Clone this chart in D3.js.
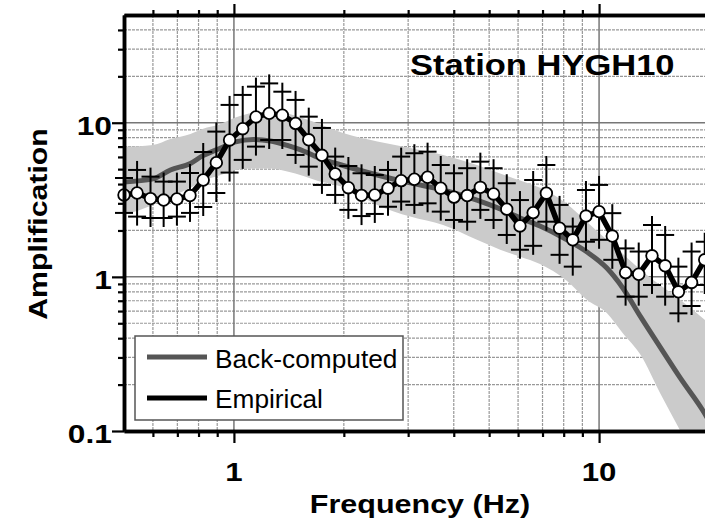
<!DOCTYPE html>
<html>
<head>
<meta charset="utf-8">
<script src="https://cdn.jsdelivr.net/npm/d3@7"></script>
<style>
  body { margin: 0; background: #fff; }
  svg { display: block; font-family: "Liberation Sans", Arial, sans-serif; }
</style>
</head>
<body>
<div id="chart"></div>
<script>
// Empirical amplification (mean, +/- one std)
var empFreq = [0.5, 0.543, 0.591, 0.642, 0.698, 0.758, 0.824, 0.895, 0.973, 1.057, 1.149, 1.249, 1.357, 1.475, 1.603,
               1.742, 1.894, 2.058, 2.236, 2.431, 2.642, 2.871, 3.12, 3.391, 3.685, 4.005, 4.353, 4.73, 5.141, 5.587,
               6.072, 6.599, 7.172, 7.795, 8.471, 9.206, 10.0, 10.87, 11.82, 12.84, 13.96, 15.17, 16.49, 17.92, 19.47];
var empMean = [3.40, 3.50, 3.22, 3.15, 3.20, 3.37, 4.25, 5.51, 7.73, 9.15, 10.9, 11.5, 11.2, 9.9, 7.75,
               6.15, 4.65, 3.79, 3.38, 3.40, 3.76, 4.21, 4.30, 4.43, 3.76, 3.29, 3.37, 3.81, 3.45, 2.75,
               2.14, 2.61, 3.49, 2.07, 1.74, 2.48, 2.65, 1.84, 1.065, 1.04, 1.37, 1.18, 0.80, 0.92, 1.29];
var empUpper = [4.38, 4.94, 4.47, 4.15, 4.15, 4.72, 6.46, 8.76, 13.05, 15.15, 17.15, 18.0, 15.9, 14.06, 10.95,
                9.25, 6.03, 5.24, 4.70, 4.58, 4.94, 6.03, 6.34, 6.49, 5.32, 4.70, 5.07, 5.59, 5.07, 4.05,
                3.15, 4.25, 5.32, 2.93, 2.12, 3.66, 3.95, 2.59, 1.53, 1.46, 2.17, 1.87, 1.165, 1.46, 1.69];
var empLower = [2.60, 2.46, 2.41, 2.41, 2.46, 2.60, 2.84, 3.50, 4.75, 5.74, 7.00, 7.73, 7.73, 6.18, 5.19,
                3.95, 3.40, 2.72, 2.48, 2.56, 2.85, 3.08, 2.93, 3.00, 2.65, 2.34, 2.28, 2.72, 2.34, 1.87,
                1.50, 1.59, 2.28, 1.39, 1.165, 1.69, 1.74, 1.29, 0.744, 0.744, 0.886, 0.744, 0.58, 0.647, 0.886];

// Back-computed amplification (median and band)
var backFreq = [0.5, 0.6, 0.67, 0.76, 0.82, 0.92, 1.01, 1.13, 1.26, 1.4, 1.55, 1.7, 1.99, 2.47, 3.04,
                3.74, 4.63, 5.36, 6.08, 6.89, 8.17, 9.27, 10.5, 11.6, 13.0, 14.7, 16.7, 19.5, 20.1];
var backMed = [4.13, 4.32, 4.94, 5.44, 6.09, 6.86, 7.51, 7.79, 7.62, 7.12, 6.56, 5.95, 5.28, 4.58, 4.07,
               3.66, 3.15, 2.76, 2.41, 2.14, 1.74, 1.45, 1.14, 0.85, 0.55, 0.35, 0.22, 0.129, 0.114];
var backHigh = [7.00, 7.18, 7.85, 8.46, 9.12, 9.82, 10.8, 11.6, 11.8, 11.5, 10.7, 9.9, 8.58, 7.56, 6.86,
                6.18, 5.32, 4.69, 4.22, 3.78, 2.97, 2.27, 1.74, 1.41, 1.11, 0.886, 0.708, 0.525, 0.495];
var backLow = [2.52, 2.93, 3.30, 3.78, 4.19, 4.58, 4.94, 5.05, 5.05, 4.83, 4.52, 4.19, 3.83, 2.93, 2.46,
               2.17, 1.74, 1.50, 1.35, 1.21, 0.94, 0.708, 0.583, 0.433, 0.311, 0.176, 0.1, 0.05, 0.045];

var xMajor = [1, 10];
var xMinor = [0.6, 0.7, 0.8, 0.9, 2, 3, 4, 5, 6, 7, 8, 9, 20];
var yMajor = [0.1, 1, 10];
var yMinor = [0.2, 0.3, 0.4, 0.5, 0.6, 0.7, 0.8, 0.9, 2, 3, 4, 5, 6, 7, 8, 9, 20, 30, 40];
var xLabels = ["1", "10"];
var yLabels = ["0.1", "1", "10"];

var w = 705, h = 526;
var pLeft = 124, pRight = 709, pTop = 15, pBottom = 431;

var x = d3.scaleLog().domain([0.5, 20]).range([pLeft, pRight]);
var y = d3.scaleLog().domain([0.1, 50]).range([pBottom, pTop]);

var svg = d3.select("#chart").append("svg")
            .attr("width", w)
            .attr("height", h);

svg.append("clipPath").attr("id", "plotclip")
   .append("rect")
   .attr("x", pLeft).attr("y", pTop)
   .attr("width", pRight - pLeft).attr("height", pBottom - pTop);

// stretch text horizontally so it fills the same width as the original
function stretch(sel, k) {
    sel.each(function() {
        var len = this.getComputedTextLength();
        d3.select(this).attr("textLength", len * k).attr("lengthAdjust", "spacingAndGlyphs");
    });
}

// grid
var grid = svg.append("g").attr("clip-path", "url(#plotclip)");
grid.selectAll("line.vmin").data(xMinor).enter().append("line")
    .attr("x1", d => x(d)).attr("x2", d => x(d))
    .attr("y1", pTop).attr("y2", pBottom)
    .attr("stroke", "#999").attr("stroke-width", 1.2).attr("stroke-dasharray", "3,1");
grid.selectAll("line.hmin").data(yMinor).enter().append("line")
    .attr("x1", pLeft).attr("x2", pRight)
    .attr("y1", d => y(d)).attr("y2", d => y(d))
    .attr("stroke", "#999").attr("stroke-width", 1.2).attr("stroke-dasharray", "3,1");
grid.selectAll("line.vmaj").data(xMajor).enter().append("line")
    .attr("x1", d => x(d)).attr("x2", d => x(d))
    .attr("y1", pTop).attr("y2", pBottom)
    .attr("stroke", "#777").attr("stroke-width", 1.5);
grid.selectAll("line.hmaj").data(yMajor).enter().append("line")
    .attr("x1", pLeft).attr("x2", pRight)
    .attr("y1", d => y(d)).attr("y2", d => y(d))
    .attr("stroke", "#777").attr("stroke-width", 1.5);

// back-computed band and median
var plot = svg.append("g").attr("clip-path", "url(#plotclip)");
var band = d3.area()
    .x((d, i) => x(backFreq[i]))
    .y0((d, i) => y(backLow[i]))
    .y1((d, i) => y(backHigh[i]))
    .curve(d3.curveMonotoneX);
plot.append("path").datum(backFreq).attr("d", band).attr("fill", "#cbcbcb");

var medLine = d3.line()
    .x((d, i) => x(backFreq[i]))
    .y((d, i) => y(backMed[i]))
    .curve(d3.curveMonotoneX);
plot.append("path").datum(backFreq).attr("d", medLine)
    .attr("fill", "none").attr("stroke", "#555").attr("stroke-width", 5);

// empirical error crosses
var cross = svg.append("g").attr("stroke", "#000").attr("stroke-width", 2);
empFreq.forEach(function(f, i) {
    var cx = x(f), yu = y(empUpper[i]), yl = y(empLower[i]);
    cross.append("line").attr("x1", cx).attr("x2", cx).attr("y1", yu - 9).attr("y2", yl + 9);
    cross.append("line").attr("x1", cx - 9).attr("x2", cx + 9).attr("y1", yu).attr("y2", yu);
    cross.append("line").attr("x1", cx - 9).attr("x2", cx + 9).attr("y1", yl).attr("y2", yl);
});

// empirical mean line and circles
var empLine = d3.line()
    .x((d, i) => x(empFreq[i]))
    .y((d, i) => y(empMean[i]));
svg.append("path").datum(empFreq).attr("d", empLine)
   .attr("fill", "none").attr("stroke", "#000").attr("stroke-width", 5.5)
   .attr("stroke-linejoin", "round");
svg.selectAll("circle.emp").data(empFreq).enter().append("circle")
   .attr("cx", d => x(d))
   .attr("cy", (d, i) => y(empMean[i]))
   .attr("r", 5.8)
   .attr("fill", "#fff").attr("stroke", "#000").attr("stroke-width", 1.8);

// axes
function styleAxis(g) {
    g.select(".domain").attr("stroke", "#000").attr("stroke-width", 3.5);
    g.selectAll(".tick line").attr("stroke", "#000").attr("stroke-width", 2.2);
}
svg.append("g").attr("transform", `translate(0,${pBottom})`)
   .call(d3.axisBottom(x).tickValues(xMinor).tickSize(6).tickSizeOuter(0).tickFormat(""))
   .call(styleAxis);
svg.append("g").attr("transform", `translate(0,${pBottom})`)
   .call(d3.axisBottom(x).tickValues(xMajor).tickSize(12).tickSizeOuter(0).tickFormat(""))
   .call(styleAxis);
svg.append("g").attr("transform", `translate(0,${pTop})`)
   .call(d3.axisTop(x).tickValues(xMinor).tickSize(5).tickSizeOuter(0).tickFormat(""))
   .call(styleAxis);
svg.append("g").attr("transform", `translate(0,${pTop})`)
   .call(d3.axisTop(x).tickValues(xMajor).tickSize(11).tickSizeOuter(0).tickFormat(""))
   .call(styleAxis);
svg.append("g").attr("transform", `translate(${pLeft},0)`)
   .call(d3.axisLeft(y).tickValues(yMinor).tickSize(6).tickSizeOuter(0).tickFormat(""))
   .call(styleAxis);
svg.append("g").attr("transform", `translate(${pLeft},0)`)
   .call(d3.axisLeft(y).tickValues(yMajor).tickSize(12).tickSizeOuter(0).tickFormat(""))
   .call(styleAxis);

// tick labels
var xl = svg.selectAll("text.xl").data(xMajor).enter().append("text")
    .attr("x", d => x(d)).attr("y", 481)
    .attr("text-anchor", "middle")
    .style("font-size", "26px").style("font-weight", "bold")
    .text((d, i) => xLabels[i]);
stretch(xl, 1.2);
var yl = svg.selectAll("text.yl").data(yMajor).enter().append("text")
    .attr("x", 112).attr("y", d => y(d) + 12)
    .attr("text-anchor", "end")
    .style("font-size", "26px").style("font-weight", "bold")
    .text((d, i) => yLabels[i]);
stretch(yl, 1.22);

// axis titles
var xt = svg.append("text")
    .attr("x", 420).attr("y", 513)
    .attr("text-anchor", "middle")
    .style("font-size", "25px").style("font-weight", "bold")
    .text("Frequency (Hz)");
stretch(xt, 1.22);
var yt = svg.append("text")
    .attr("transform", "translate(47,224) rotate(-90)")
    .attr("text-anchor", "middle")
    .style("font-size", "25px").style("font-weight", "bold")
    .text("Amplification");
stretch(yt, 1.21);

// station label
var st = svg.append("text")
    .attr("x", 410).attr("y", 75)
    .style("font-size", "30px").style("font-weight", "bold")
    .text("Station HYGH10");
stretch(st, 1.15);

// legend
var legend = svg.append("g");
legend.append("rect")
      .attr("x", 135).attr("y", 336).attr("width", 268).attr("height", 84)
      .attr("fill", "#fff").attr("stroke", "#555").attr("stroke-width", 1.5);
var legItems = [
    { name: "Back-computed", color: "#555", ly: 357, ty: 368 },
    { name: "Empirical", color: "#000", ly: 398, ty: 408 }
];
legend.selectAll("line.leg").data(legItems).enter().append("line")
      .attr("x1", 147).attr("x2", 207)
      .attr("y1", d => d.ly).attr("y2", d => d.ly)
      .attr("stroke", d => d.color).attr("stroke-width", 5);
var lt = legend.selectAll("text.leg").data(legItems).enter().append("text")
      .attr("x", 215).attr("y", d => d.ty)
      .style("font-size", "25px")
      .text(d => d.name);
stretch(lt, 1.05);
</script>
</body>
</html>
